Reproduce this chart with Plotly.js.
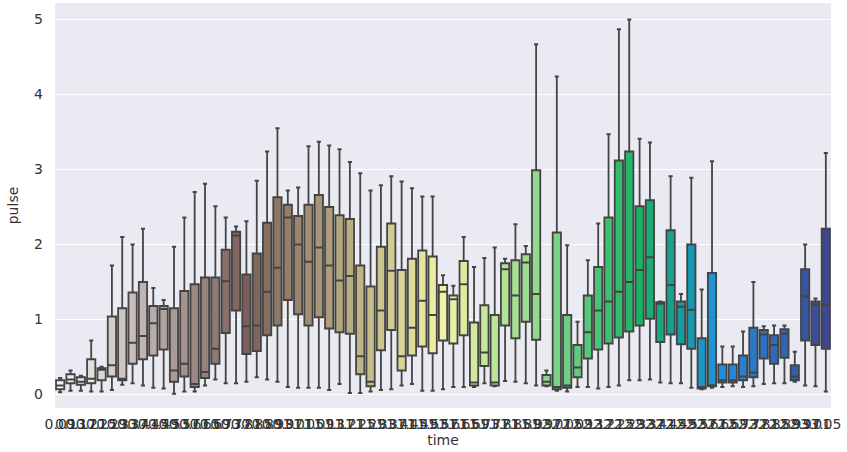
<!DOCTYPE html>
<html>
<head>
<meta charset="utf-8">
<script src="https://cdn.plot.ly/plotly-3.0.1.min.js"></script>
<style>html,body{margin:0;padding:0;background:#fff;}#chart{width:847px;height:452px;}</style>
</head>
<body>
<div id="chart"></div>
<script>
// time categories (tick labels)
const timeLabels = ["0.09","0.13","0.17","0.21","0.25","0.29","0.33","0.37","0.41","0.45",
"0.49","0.53","0.57","0.61","0.65","0.69","0.73","0.77","0.81","0.85",
"0.89","0.93","0.97","1.01","1.05","1.09","1.13","1.17","1.21","1.25",
"1.29","1.33","1.37","1.41","1.45","1.49","1.53","1.57","1.61","1.65",
"1.69","1.73","1.77","1.81","1.85","1.89","1.93","1.97","2.01","2.05",
"2.09","2.13","2.17","2.21","2.25","2.29","2.33","2.37","2.41","2.45",
"2.49","2.53","2.57","2.61","2.65","2.69","2.73","2.77","2.81","2.85",
"2.89","2.93","2.97","3.01","3.05"];

// pulse box statistics per time
const lowerWhisker = [0.03,0.05,0.05,0.04,0.04,0.06,0.13,0.15,0.12,0.09,
0.08,0.01,0.04,0.04,0.12,0.20,0.15,0.15,0.17,0.23,
0.20,0.17,0.10,0.09,0.09,0.09,0.06,0.14,0.02,0.02,
0.04,0.06,0.07,0.12,0.14,0.05,0.05,0.07,0.10,0.10,
0.10,0.15,0.11,0.18,0.17,0.15,0.12,0.11,0.05,0.04,
0.10,0.10,0.08,0.10,0.12,0.19,0.19,0.20,0.16,0.15,
0.15,0.09,0.07,0.09,0.10,0.11,0.10,0.11,0.14,0.15,
0.15,0.17,0.12,0.11,0.04];
const q1 = [0.07,0.15,0.13,0.15,0.19,0.24,0.19,0.41,0.47,0.52,
0.60,0.17,0.24,0.10,0.22,0.41,0.82,1.12,0.54,0.58,
0.79,0.92,1.26,1.07,0.92,1.03,0.88,0.83,0.81,0.27,
0.11,0.59,0.86,0.32,0.52,0.64,0.55,0.72,0.68,0.79,
0.12,0.38,0.12,0.92,0.75,0.97,0.73,0.12,0.07,0.09,
0.23,0.48,0.60,0.68,0.76,0.84,0.92,1.01,0.70,0.80,
0.67,0.61,0.08,0.11,0.16,0.16,0.19,0.23,0.48,0.41,
0.49,0.19,0.72,0.66,0.61];
const median = [0.12,0.20,0.17,0.21,0.33,0.39,0.21,0.69,0.78,0.95,
1.14,0.32,0.41,0.14,0.30,0.61,1.51,2.12,0.91,0.92,
1.37,1.69,2.36,2.00,1.77,1.96,1.72,1.52,1.58,0.51,
0.17,1.12,1.65,0.51,0.89,1.25,1.06,1.37,1.27,1.47,
0.16,0.56,0.16,1.67,1.32,1.76,1.34,0.17,0.10,0.12,
0.36,0.83,1.12,1.24,1.37,1.50,1.66,1.83,1.21,1.46,
1.17,1.13,0.10,0.12,0.19,0.19,0.24,0.29,0.80,0.66,
0.81,0.24,1.31,1.20,1.20];
const q3 = [0.19,0.27,0.23,0.47,0.35,1.04,1.15,1.36,1.50,1.18,
1.18,1.15,1.38,1.47,1.56,1.56,1.93,2.17,1.60,1.88,
2.29,2.63,2.53,2.38,2.53,2.66,2.50,2.39,2.34,1.72,
1.44,1.97,2.28,1.66,1.81,1.92,1.84,1.46,1.32,1.78,
0.96,1.19,1.06,1.75,1.79,1.87,2.99,0.26,2.16,1.06,
0.66,1.32,1.70,2.36,3.12,3.24,2.51,2.59,1.23,2.19,
1.24,2.00,0.75,1.62,0.40,0.40,0.52,0.89,0.86,0.79,
0.87,0.39,1.67,1.24,2.21];
const upperWhisker = [0.22,0.32,0.25,0.72,0.37,1.72,2.10,2.00,2.21,1.42,
1.26,1.97,2.36,2.70,2.81,2.51,2.36,2.24,2.31,2.85,
3.24,3.55,2.72,2.76,3.31,3.37,3.32,3.27,3.10,2.95,
2.72,2.79,2.91,2.84,2.75,2.64,2.64,1.59,1.45,2.10,
1.70,1.82,1.96,1.81,2.27,1.98,4.67,0.32,4.24,1.99,
0.97,1.79,2.28,3.47,4.87,5.00,3.41,3.36,1.24,2.91,
1.34,2.89,1.40,3.11,0.64,0.64,0.84,1.50,0.91,0.92,
0.92,0.57,2.00,1.28,3.22];

// terrain_r palette (seaborn-style sampling + desaturation 0.75)
const terrainStops = [[0.00,[0.2,0.2,0.6]],[0.15,[0.0,0.6,1.0]],[0.25,[0.0,0.8,0.4]],
                      [0.50,[1.0,1.0,0.6]],[0.75,[0.5,0.36,0.33]],[1.00,[1.0,1.0,1.0]]];
function terrain(t){
  for(let k=0;k<terrainStops.length-1;k++){
    const [a,ca]=terrainStops[k],[b,cb]=terrainStops[k+1];
    if(t>=a && t<=b){const f=(t-a)/(b-a);return ca.map((v,j)=>v+(cb[j]-v)*f);}
  }
  return terrainStops[terrainStops.length-1][1];
}
function desat(rgb,s){
  const [r,g,b]=rgb;const mx=Math.max(r,g,b),mn=Math.min(r,g,b);
  const l=(mx+mn)/2;let h=0,sat=0;
  if(mx!==mn){const d=mx-mn;sat=l>0.5?d/(2-mx-mn):d/(mx+mn);
    if(mx===r)h=((g-b)/d+(g<b?6:0));else if(mx===g)h=(b-r)/d+2;else h=(r-g)/d+4;h/=6;}
  sat*=s;
  function hue2rgb(p,q,t){if(t<0)t+=1;if(t>1)t-=1;if(t<1/6)return p+(q-p)*6*t;if(t<1/2)return q;if(t<2/3)return p+(q-p)*(2/3-t)*6;return p;}
  if(sat===0)return [l,l,l];
  const q=l<0.5?l*(1+sat):l+sat-l*sat,p=2*l-q;
  return [hue2rgb(p,q,h+1/3),hue2rgb(p,q,h),hue2rgb(p,q,h-1/3)];
}
const n = timeLabels.length;
const traces = timeLabels.map((lab,i)=>{
  const c = desat(terrain(1-(i+1)/(n+1)),0.75).map(v=>Math.round(v*255));
  return {type:'box', x:[lab], q1:[q1[i]], median:[median[i]], q3:[q3[i]],
    lowerfence:[lowerWhisker[i]], upperfence:[upperWhisker[i]],
    fillcolor:`rgb(${c[0]},${c[1]},${c[2]})`, line:{color:'#444444',width:1.8},
    width:0.8, whiskerwidth:0.5, boxpoints:false, showlegend:false, hoverinfo:'skip'};
});

const layout = {
  width:847, height:452,
  margin:{l:55,r:16,t:3,b:44},
  paper_bgcolor:'#ffffff', plot_bgcolor:'#eaeaf2',
  font:{family:'DejaVu Sans, sans-serif', size:14, color:'#333333'},
  boxmode:'overlay',
  xaxis:{type:'category', categoryorder:'array', categoryarray:timeLabels,
    tickmode:'array', tickvals:timeLabels, ticktext:timeLabels, tickangle:0,
    range:[-0.5,n-0.5], showgrid:false, zeroline:false, showline:false, ticks:'',
    ticklabelstandoff:6, automargin:false,
    title:{text:'time', font:{size:14,color:'#333333'}, standoff:4}},
  yaxis:{range:[-0.18,5.22], tickvals:[0,1,2,3,4,5], showgrid:true, gridcolor:'#ffffff', gridwidth:1.2,
    zeroline:false, showline:false, ticks:'', ticklabelstandoff:11, automargin:false,
    title:{text:'pulse', font:{size:14,color:'#333333'}, standoff:12}}
};
Plotly.newPlot('chart', traces, layout, {displayModeBar:false, staticPlot:true});
</script>
</body>
</html>
